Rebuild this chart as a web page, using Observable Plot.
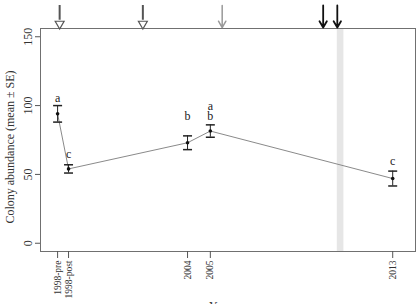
<!DOCTYPE html>
<html><head><meta charset="utf-8">
<script src="https://cdn.jsdelivr.net/npm/d3@7"></script>
<script src="https://cdn.jsdelivr.net/npm/@observablehq/plot@0.6"></script>
<style>body{margin:0;background:#fff} #chart svg{display:block}</style>
</head><body><div id="chart"></div>
<script>
// ---- data ----
const periods   = ["1998-pre", "1998-post", "2004", "2005", "2013"];
const periodX   = [1998.3, 1998.78, 2004, 2005, 2013];
const means     = [94, 54, 73, 81.5, 47];
const ses       = [6, 3, 5, 4.5, 5.4];
const letters   = ["a", "c", "b", "a\nb", "c"];
const letterY   = [105, 64, 92, 95.3, 59];
const yTicks    = [0, 50, 100, 150];
const arrowX    = [1998.39, 2002.04, 2005.52, 2009.95, 2010.57];
const arrowKind = ["open", "open", "grey", "black", "black"];
const band      = [2010.57, 2010.86];
const xDomain   = [1997.55, 2014];
const yDomain   = [-6, 156];
const yLabel    = "Colony abundance (mean ± SE)";
const xLabel    = "Year";

const rows = periods.map((p, i) => ({period: p, x: periodX[i], mean: means[i], se: ses[i], letter: letters[i], ly: letterY[i]}));
const arrows = arrowX.map((x, i) => ({x, kind: arrowKind[i]}));
const arrowTop = yDomain[1] + 16.7, arrowTip = yDomain[1] + 0.7;

const capSymbol = {draw(ctx, size) { const w = Math.sqrt(size / Math.PI); ctx.moveTo(-w, 0); ctx.lineTo(w, 0); }};

const chart = Plot.plot({
  width: 418, height: 304,
  marginLeft: 40, marginRight: 3, marginTop: 28, marginBottom: 53,
  x: {domain: xDomain},
  y: {domain: yDomain},
  style: {fontFamily: "'Liberation Serif', 'Times New Roman', serif", fontSize: "12px", background: "white", overflow: "visible", color: "#222"},
  marks: [
    Plot.rect([band], {x1: d => d[0], x2: d => d[1], fill: "#e6e6e6"}),
    Plot.frame({stroke: "#707070"}),
    Plot.axisY(yTicks, {tickSize: 5, tickFormat: () => "", label: null, stroke: "#555"}),
    Plot.text(yTicks, {frameAnchor: "left", y: d => d, text: d => String(d), rotate: -90, dx: -12, textAnchor: "middle", lineAnchor: "middle", fontSize: 12, fill: "#333"}),
    Plot.axisX(periodX, {tickSize: 7, tickFormat: () => "", label: null, stroke: "#555"}),
    Plot.text(rows, {x: "x", frameAnchor: "bottom", text: "period", dy: 9, rotate: -90, textAnchor: "end", lineAnchor: "middle", fontSize: 9.5, fill: "#333"}),
    Plot.line(rows, {x: "x", y: "mean", stroke: "#8a8a8a", strokeWidth: 1}),
    Plot.ruleX(rows, {x: "x", y1: d => d.mean - d.se, y2: d => d.mean + d.se, stroke: "#222"}),
    Plot.dot(rows, {x: "x", y: d => d.mean + d.se, symbol: capSymbol, r: 4.5, stroke: "#222", fill: "none"}),
    Plot.dot(rows, {x: "x", y: d => d.mean - d.se, symbol: capSymbol, r: 4.5, stroke: "#222", fill: "none"}),
    Plot.dot(rows, {x: "x", y: "mean", r: 1.8, fill: "#111", stroke: "none"}),
    Plot.text(rows, {x: "x", y: "ly", text: "letter", fontSize: 12, lineAnchor: "middle", lineHeight: 0.8, fill: "#222"}),
    // event arrows above the panel
    Plot.ruleX(arrows.filter(d => d.kind === "open"), {x: "x", y1: arrowTop, y2: yDomain[1] + 6, stroke: "#555", strokeWidth: 2}),
    Plot.dot(arrows.filter(d => d.kind === "open"), {x: "x", y: yDomain[1] + 3.4, symbol: "triangle", r: 3.3, rotate: 180, stroke: "#555", fill: "white", strokeWidth: 1.2}),
    Plot.arrow(arrows.filter(d => d.kind === "grey"), {x1: "x", x2: "x", y1: arrowTop, y2: arrowTip, stroke: "#999", strokeWidth: 1.5, headLength: 8}),
    Plot.arrow(arrows.filter(d => d.kind === "black"), {x1: "x", x2: "x", y1: arrowTop, y2: arrowTip, stroke: "#111", strokeWidth: 1.8, headLength: 8}),
    // axis titles
    Plot.text([yLabel], {frameAnchor: "left", text: d => d, dx: -30, dy: 7, rotate: -90, textAnchor: "middle", fontSize: 12, lineAnchor: "middle", fill: "#333"}),
    Plot.text([xLabel], {frameAnchor: "bottom", text: d => d, dx: -8, dy: 50, textAnchor: "middle", lineAnchor: "top", fontSize: 12, fill: "#333"})
  ]
});
document.getElementById("chart").append(chart);
</script>
</body></html>
